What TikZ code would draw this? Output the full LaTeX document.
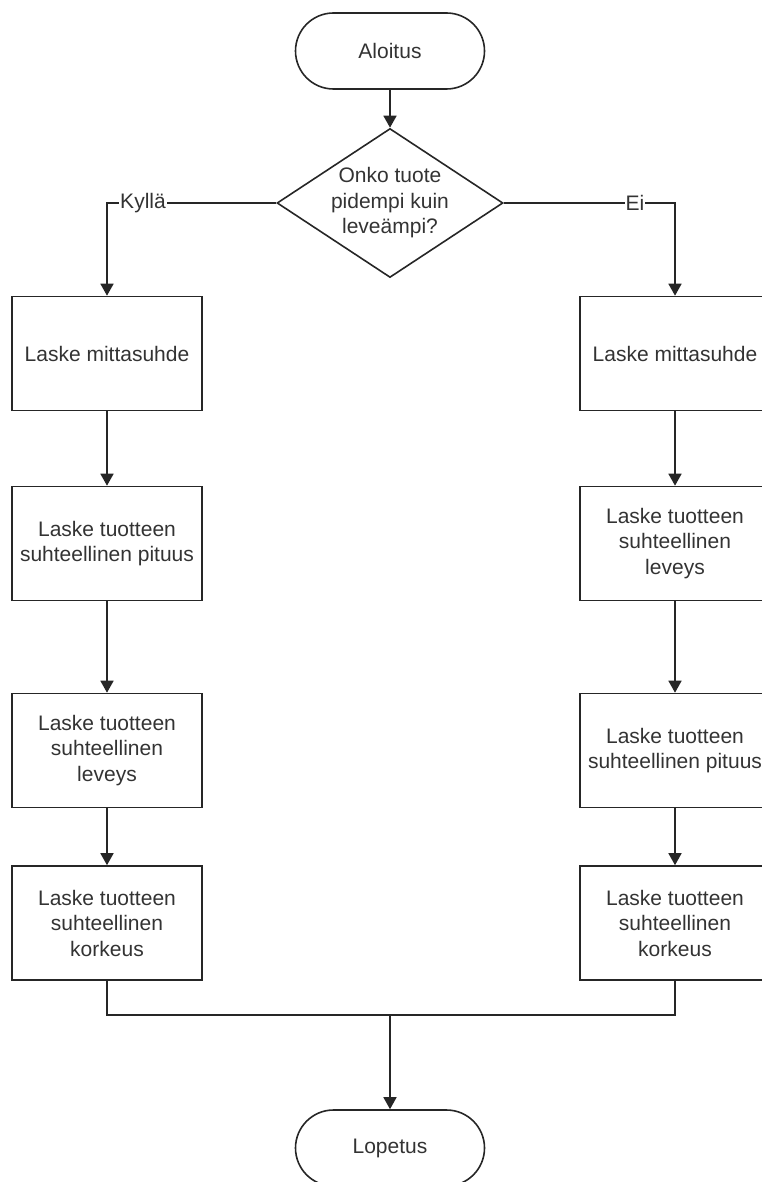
\documentclass[tikz,border=0pt]{standalone}
\usepackage{fontspec}
\setmainfont{Liberation Sans}
\usetikzlibrary{shapes.geometric,arrows.meta}

\tikzset{
  flowline/.style={draw=black!85, line width=1.6pt},
  arr/.style={flowline, -{Triangle[width=13pt,length=12pt]}},
  txt/.style={font=\fontsize{21}{25.5}\selectfont, text=black!80, align=center},
  terminal/.style={txt, draw=black!85, line width=1.6pt, rectangle,
    rounded corners=38pt, minimum width=189pt, minimum height=76pt, inner sep=0pt},
  decision/.style={txt, draw=black!85, line width=1.6pt, diamond, aspect=1.517,
    minimum width=226pt, minimum height=149pt, inner sep=0pt},
  process/.style={txt, draw=black!85, line width=1.6pt, rectangle,
    minimum width=190pt, minimum height=114pt, inner sep=0pt},
  lbl/.style={txt, fill=white, inner sep=1pt}
}

\begin{document}
\begin{tikzpicture}[x=1pt, y=-1pt]
  \clip (0,0) rectangle (762,1182);

  % start and decision
  \node[terminal] (start) at (390,51) {Aloitus};
  \node[decision] (dec) at (390,203) {Onko tuote\\pidempi kuin\\leveämpi?};

  % left branch
  \node[process] (l1) at (107,353.5) {Laske mittasuhde};
  \node[process] (l2) at (107,543.5) {Laske tuotteen\\suhteellinen pituus};
  \node[process] (l3) at (107,750.5) {Laske tuotteen\\suhteellinen\\leveys};
  \node[process] (l4) at (107,923) {Laske tuotteen\\suhteellinen\\korkeus};

  % right branch
  \node[process] (r1) at (675,353.5) {Laske mittasuhde};
  \node[process] (r2) at (675,543.5) {Laske tuotteen\\suhteellinen\\leveys};
  \node[process] (r3) at (675,750.5) {Laske tuotteen\\suhteellinen pituus};
  \node[process] (r4) at (675,923) {Laske tuotteen\\suhteellinen\\korkeus};

  % end
  \node[terminal] (stop) at (390,1148) {Lopetus};
  \coordinate (join) at (390,1015);

  % connectors
  \draw[arr] (start) -- (dec);
  \draw[arr] (dec.west) -| (l1.north);
  \draw[arr] (dec.east) -| (r1.north);
  \node[lbl] (yes) at (143,203) {Kyllä};
  \node[lbl] (no) at (635,203) {Ei};

  \draw[arr] (l1) -- (l2);
  \draw[arr] (l2) -- (l3);
  \draw[arr] (l3) -- (l4);
  \draw[arr] (r1) -- (r2);
  \draw[arr] (r2) -- (r3);
  \draw[arr] (r3) -- (r4);

  \draw[flowline] (l4.south) |- (join) -| (r4.south);
  \draw[arr] (join) -- (stop.north);
\end{tikzpicture}
\end{document}
